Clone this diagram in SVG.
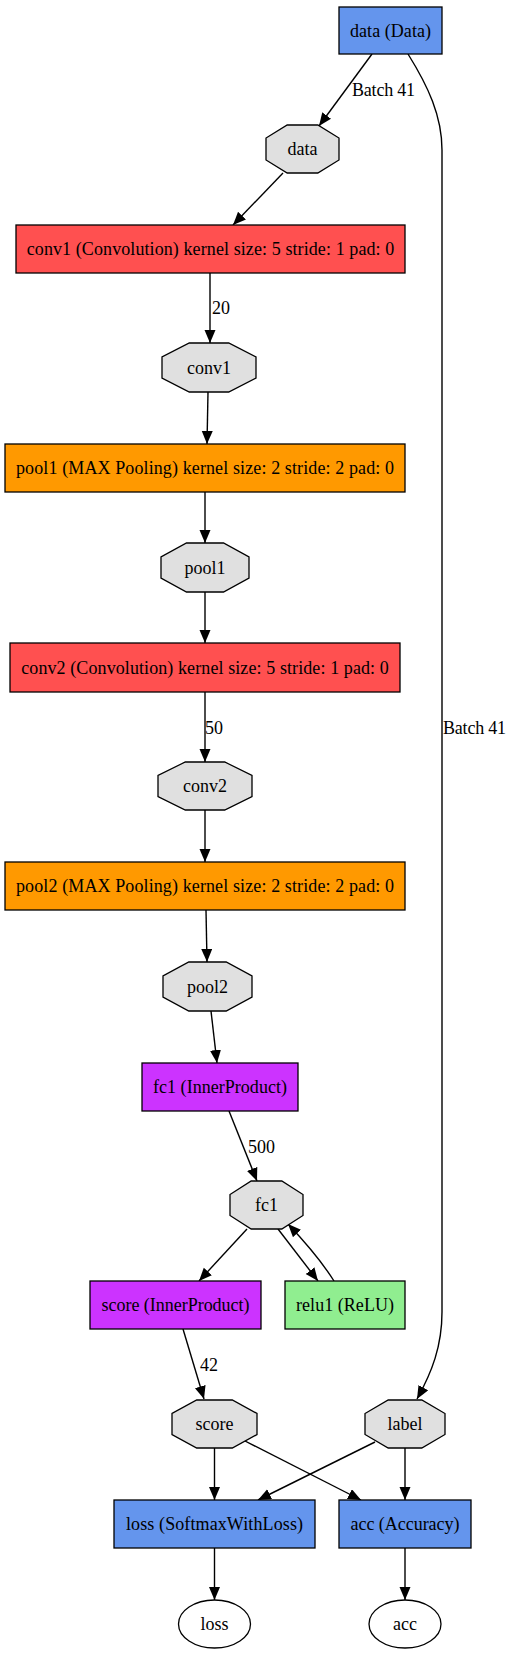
<svg xmlns="http://www.w3.org/2000/svg" width="513" height="1653" viewBox="0 0 513 1653">
<style>
text{font-family:"Liberation Serif","Times New Roman",serif;font-size:18px;fill:#000}
.n text{text-anchor:middle}
.box{stroke:#000;stroke-width:1.3}
.blob{fill:#E0E0E0;stroke:#000;stroke-width:1.3}
.ell{fill:#fff;stroke:#000;stroke-width:1.3}
.e path{fill:none;stroke:#000;stroke-width:1.4;marker-end:url(#ah)}
.lbl{text-anchor:start}
</style>
<defs>
<marker id="ah" markerUnits="userSpaceOnUse" markerWidth="14" markerHeight="12" refX="13" refY="5.5" orient="auto">
<path d="M0,0 L13,5.5 L0,11 Z" fill="#000"/>
</marker>
</defs>
<rect width="513" height="1653" fill="#fff"/>
<g id="edges" class="e">
<path d="M372,54 L319,126"/>
<path d="M283,173 L233,225"/>
<path d="M408,54 C428,86 442,116 442,150 L442,1312 C442,1346 432,1372 417,1399"/>
<path d="M210,273 L210,343"/>
<path d="M208,392 L207,444"/>
<path d="M205,492 L205,543"/>
<path d="M205,592 L205,643"/>
<path d="M205,692 L205,762"/>
<path d="M205,810 L205,862"/>
<path d="M206,910 L207,962"/>
<path d="M211,1011 L217,1063"/>
<path d="M229,1111 L257,1181"/>
<path d="M247,1229 L199,1281"/>
<path d="M278,1229 L318,1281"/>
<path d="M334,1281 C322,1262 306,1243 288,1224"/>
<path d="M183,1329 L204,1399"/>
<path d="M214.5,1448 L214.5,1500"/>
<path d="M245,1441 L361,1500"/>
<path d="M375,1442 L258,1500"/>
<path d="M405,1448 L405,1500"/>
<path d="M214.5,1548 L214.5,1600"/>
<path d="M405,1548 L405,1600"/>
</g>
<g id="edge-labels" class="lbl">
<text x="352" y="96" textLength="63" lengthAdjust="spacing">Batch 41</text>
<text x="212" y="314">20</text>
<text x="205" y="734">50</text>
<text x="443" y="734" textLength="63" lengthAdjust="spacing">Batch 41</text>
<text x="248" y="1153">500</text>
<text x="200" y="1371">42</text>
</g>
<g id="n-data-layer" class="n"><rect class="box" x="339" y="7" width="103" height="47" fill="#6495ED"/><text x="390.5" y="36.5" textLength="81" lengthAdjust="spacing">data (Data)</text></g>
<g id="n-data" class="n"><polygon class="blob" points="287.2,125 317.8,125 339,138 339,160 317.8,173 287.2,173 266,160 266,138"/><text x="302.5" y="155">data</text></g>
<g id="n-conv1-layer" class="n"><rect class="box" x="16" y="225" width="389" height="48" fill="#FF5050"/><text x="210.5" y="255" textLength="367.5" lengthAdjust="spacing">conv1 (Convolution) kernel size: 5 stride: 1 pad: 0</text></g>
<g id="n-conv1" class="n"><polygon class="blob" points="189.3,343 228.7,343 256,357 256,378 228.7,392 189.3,392 162,378 162,357"/><text x="209" y="373.5">conv1</text></g>
<g id="n-pool1-layer" class="n"><rect class="box" x="5" y="444" width="400" height="48" fill="#FF9900"/><text x="205" y="474" textLength="378" lengthAdjust="spacing">pool1 (MAX Pooling) kernel size: 2 stride: 2 pad: 0</text></g>
<g id="n-pool1" class="n"><polygon class="blob" points="186.5,543 223.5,543 249,557 249,578 223.5,592 186.5,592 161,578 161,557"/><text x="205" y="573.5">pool1</text></g>
<g id="n-conv2-layer" class="n"><rect class="box" x="10" y="643" width="390" height="49" fill="#FF5050"/><text x="205" y="673.5" textLength="367.5" lengthAdjust="spacing">conv2 (Convolution) kernel size: 5 stride: 1 pad: 0</text></g>
<g id="n-conv2" class="n"><polygon class="blob" points="185.3,762 224.7,762 252,775.5 252,796.5 224.7,810 185.3,810 158,796.5 158,775.5"/><text x="205" y="792">conv2</text></g>
<g id="n-pool2-layer" class="n"><rect class="box" x="5" y="862" width="400" height="48" fill="#FF9900"/><text x="205" y="892" textLength="378" lengthAdjust="spacing">pool2 (MAX Pooling) kernel size: 2 stride: 2 pad: 0</text></g>
<g id="n-pool2" class="n"><polygon class="blob" points="188.8,962 226.2,962 252,976 252,997 226.2,1011 188.8,1011 163,997 163,976"/><text x="207.5" y="992.5">pool2</text></g>
<g id="n-fc1-layer" class="n"><rect class="box" x="142" y="1063" width="156" height="48" fill="#CC33FF"/><text x="220" y="1093" textLength="134" lengthAdjust="spacing">fc1 (InnerProduct)</text></g>
<g id="n-fc1" class="n"><polygon class="blob" points="251.2,1181 281.8,1181 303,1194.5 303,1215.5 281.8,1229 251.2,1229 230,1215.5 230,1194.5"/><text x="266.5" y="1211">fc1</text></g>
<g id="n-score-layer" class="n"><rect class="box" x="90" y="1281" width="171" height="48" fill="#CC33FF"/><text x="175.5" y="1311" textLength="148" lengthAdjust="spacing">score (InnerProduct)</text></g>
<g id="n-relu1" class="n"><rect class="box" x="285" y="1281" width="120" height="48" fill="#90EE90"/><text x="345" y="1311" textLength="98" lengthAdjust="spacing">relu1 (ReLU)</text></g>
<g id="n-score" class="n"><polygon class="blob" points="196.7,1400 232.3,1400 257,1413.5 257,1434.5 232.3,1448 196.7,1448 172,1434.5 172,1413.5"/><text x="214.5" y="1430">score</text></g>
<g id="n-label" class="n"><polygon class="blob" points="388.2,1400 421.8,1400 445,1413.5 445,1434.5 421.8,1448 388.2,1448 365,1434.5 365,1413.5"/><text x="405" y="1430">label</text></g>
<g id="n-loss-layer" class="n"><rect class="box" x="114" y="1500" width="201" height="48" fill="#6495ED"/><text x="214.5" y="1530" textLength="177" lengthAdjust="spacing">loss (SoftmaxWithLoss)</text></g>
<g id="n-acc-layer" class="n"><rect class="box" x="339" y="1500" width="132" height="48" fill="#6495ED"/><text x="405" y="1530" textLength="109" lengthAdjust="spacing">acc (Accuracy)</text></g>
<g id="n-loss" class="n"><ellipse class="ell" cx="214.5" cy="1624" rx="36" ry="24"/><text x="214.5" y="1630">loss</text></g>
<g id="n-acc" class="n"><ellipse class="ell" cx="405" cy="1624" rx="36" ry="24"/><text x="405" y="1630">acc</text></g>
</svg>
